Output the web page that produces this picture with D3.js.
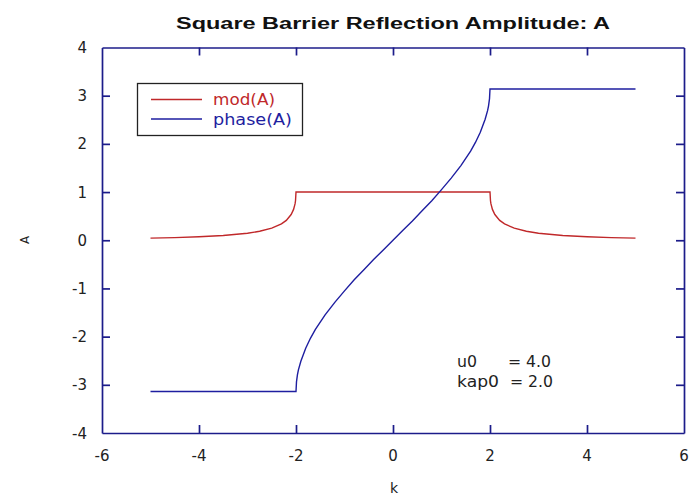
<!DOCTYPE html>
<html>
<head>
<meta charset="utf-8">
<script src="https://cdn.jsdelivr.net/npm/d3@7"></script>
<style>
  html, body { margin: 0; padding: 0; background: #fff; }
  svg { display: block; font-family: "DejaVu Sans", Verdana, sans-serif; }
</style>
</head>
<body>
<svg id="chart" width="691" height="498"></svg>
<script>
// ---- data ----
const kValues = [-5, -4.5, -4, -3.5, -3, -2.75, -2.5, -2.3, -2.2, -2.1, -2.05, -2.02, -2.01, -2,
  -1.99, -1.97, -1.95, -1.9, -1.8, -1.7, -1.6, -1.4, -1.2, -1, -0.8, -0.6, -0.4, -0.2, 0,
  0.2, 0.4, 0.6, 0.8, 1, 1.2, 1.4, 1.6, 1.7, 1.8, 1.9, 1.95, 1.97, 1.99,
  2, 2.01, 2.02, 2.05, 2.1, 2.2, 2.3, 2.5, 2.75, 3, 3.5, 4, 4.5, 5];
const modA = [0.044, 0.055, 0.072, 0.099, 0.146, 0.186, 0.25, 0.339, 0.412, 0.533, 0.64, 0.754, 0.819, 1,
  1, 1, 1, 1, 1, 1, 1, 1, 1, 1, 1, 1, 1, 1, 1,
  1, 1, 1, 1, 1, 1, 1, 1, 1, 1, 1, 1, 1, 1,
  1, 0.819, 0.754, 0.64, 0.533, 0.412, 0.339, 0.25, 0.186, 0.146, 0.099, 0.072, 0.055, 0.044];
const phaseA = [-3.14, -3.14, -3.14, -3.14, -3.14, -3.14, -3.14, -3.14, -3.14, -3.14, -3.14, -3.14, -3.14, -3.14,
  -2.94, -2.79, -2.69, -2.51, -2.24, -2.03, -1.85, -1.55, -1.29, -1.05, -0.82, -0.61, -0.40, -0.20, 0,
  0.20, 0.40, 0.61, 0.82, 1.05, 1.29, 1.55, 1.85, 2.03, 2.24, 2.51, 2.69, 2.79, 2.94,
  3.14, 3.14, 3.14, 3.14, 3.14, 3.14, 3.14, 3.14, 3.14, 3.14, 3.14, 3.14, 3.14, 3.14];
const xTickValues = [-6, -4, -2, 0, 2, 4, 6];
const yTickValues = [-4, -3, -2, -1, 0, 1, 2, 3, 4];
const seriesNames = ["mod(A)", "phase(A)"];
const noteNames = ["u0", "kap0"];
const noteValues = ["= 4.0", "= 2.0"];
const titleText = "Square Barrier Reflection Amplitude: A";

// ---- layout ----
const svg = d3.select("#chart");
const L = 102, R = 684, T = 47.5, B = 433;
const axisColor = "#1c1c8a";
const redColor = "#c0282a";
const blueColor = "#1e1ea0";

const x = d3.scaleLinear().domain([-6, 6]).range([L, R]);
const y = d3.scaleLinear().domain([-4, 4]).range([B, T]);

// title
svg.append("text").attr("x", 393).attr("y", 28.5).attr("text-anchor", "middle")
  .attr("font-family", "Arial, 'Liberation Sans', sans-serif")
  .attr("font-size", 16).attr("font-weight", "bold").attr("fill", "#111")
  .attr("textLength", 434).attr("lengthAdjust", "spacingAndGlyphs")
  .text(titleText);

// axes with inward ticks
const tickLen = 8;
const innerX = xTickValues.filter(v => v > -6 && v < 6);
const innerY = yTickValues.filter(v => v > -4 && v < 4);

const bottomAxis = d3.axisBottom(x).tickValues(innerX).tickSize(-tickLen).tickFormat("").tickSizeOuter(0);
const topAxis = d3.axisTop(x).tickValues(innerX).tickSize(-tickLen).tickFormat("").tickSizeOuter(0);
const leftAxis = d3.axisLeft(y).tickValues(innerY).tickSize(-tickLen).tickFormat("").tickSizeOuter(0);
const rightAxis = d3.axisRight(y).tickValues(innerY).tickSize(-tickLen).tickFormat("").tickSizeOuter(0);

function styleAxis(g) {
  g.selectAll("path, line").attr("stroke", axisColor).attr("stroke-width", 1.7);
}
svg.append("g").attr("transform", `translate(0,${B})`).call(bottomAxis).call(styleAxis);
svg.append("g").attr("transform", `translate(0,${T})`).call(topAxis).call(styleAxis);
svg.append("g").attr("transform", `translate(${L},0)`).call(leftAxis).call(styleAxis);
svg.append("g").attr("transform", `translate(${R},0)`).call(rightAxis).call(styleAxis);

// tick labels
svg.append("g").selectAll("text").data(xTickValues).join("text")
  .attr("x", d => x(d)).attr("y", B + 28).attr("text-anchor", "middle")
  .attr("font-size", 15).attr("fill", "#222")
  .text(d => d);
svg.append("g").selectAll("text").data(yTickValues).join("text")
  .attr("x", L - 15).attr("y", d => y(d) + 5.5).attr("text-anchor", "end")
  .attr("font-size", 15).attr("fill", "#222")
  .text(d => d);

// axis labels
svg.append("text").attr("x", 394).attr("y", 493).attr("text-anchor", "middle")
  .attr("font-size", 14).attr("fill", "#222").text("k");
svg.append("text").attr("transform", "translate(29,240) rotate(-90)").attr("text-anchor", "middle")
  .attr("font-size", 12).attr("fill", "#222").text("A");

// lines
const rows = kValues.map((k, i) => ({ k, mod: modA[i], phase: phaseA[i] }));
const lineMod = d3.line().x(d => x(d.k)).y(d => y(d.mod));
const linePhase = d3.line().x(d => x(d.k)).y(d => y(d.phase));
svg.append("path").datum(rows).attr("d", lineMod)
  .attr("fill", "none").attr("stroke", redColor).attr("stroke-width", 1.4);
svg.append("path").datum(rows).attr("d", linePhase)
  .attr("fill", "none").attr("stroke", blueColor).attr("stroke-width", 1.4);

// legend
const lg = svg.append("g");
lg.append("rect").attr("x", 137.5).attr("y", 83.5).attr("width", 165).attr("height", 52)
  .attr("fill", "#fff").attr("stroke", "#222").attr("stroke-width", 1.3);
const legColors = [redColor, blueColor];
const legWidths = [62, 79];
seriesNames.forEach((name, i) => {
  const yy = 99.5 + i * 19.5;
  lg.append("line").attr("x1", 151).attr("x2", 202).attr("y1", yy).attr("y2", yy)
    .attr("stroke", legColors[i]).attr("stroke-width", 1.4);
  lg.append("text").attr("x", 213).attr("y", yy + 5.5).attr("font-size", 15)
    .attr("textLength", legWidths[i]).attr("lengthAdjust", "spacingAndGlyphs")
    .attr("fill", legColors[i]).text(name);
});

// annotation
const nameWidths = [20, 42];
const valueX = [508, 510];
noteNames.forEach((t, i) => {
  const yy = 367 + i * 20;
  svg.append("text").attr("x", 457).attr("y", yy)
    .attr("font-size", 15).attr("fill", "#222")
    .attr("textLength", nameWidths[i]).attr("lengthAdjust", "spacingAndGlyphs").text(t);
  svg.append("text").attr("x", valueX[i]).attr("y", yy)
    .attr("font-size", 15).attr("fill", "#222")
    .attr("textLength", 43).attr("lengthAdjust", "spacingAndGlyphs").text(noteValues[i]);
});
</script>
</body>
</html>
